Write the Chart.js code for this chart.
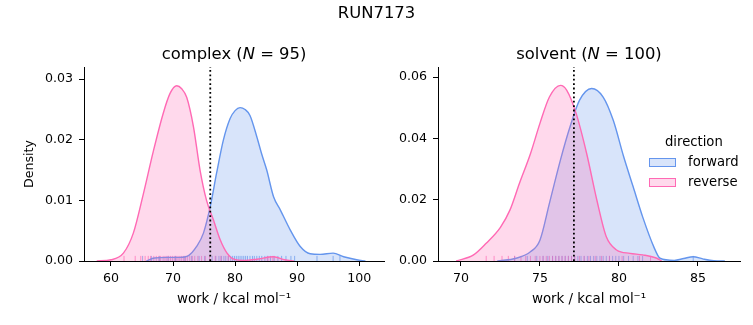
<!DOCTYPE html>
<html>
<head>
<meta charset="utf-8">
<script src="https://cdn.jsdelivr.net/npm/chart.js@4/dist/chart.umd.min.js"></script>
<style>
  body { margin: 0; background: #fff; font-family: 'DejaVu Sans', sans-serif; }
  #wrap { position: relative; width: 753px; height: 325px; }
  canvas { position: absolute; left: 0; top: 0; }
  .txt { position: absolute; color: #000; white-space: nowrap; line-height: 20px; }
  .sub { font-size: 16.4px; text-align: center; }
  .leg { font-size: 13.2px; }
  .patch { position: absolute; width: 27px; height: 9px; box-sizing: border-box; }
</style>
</head>
<body>
<div id="wrap">
  <canvas id="complexChart" width="753" height="325"></canvas>
  <canvas id="solventChart" width="753" height="325"></canvas>
  <div class="txt sub" style="left:0;width:753px;top:3px;">RUN7173</div>
  <div class="txt sub" style="left:84px;width:300px;top:44px;">complex (<i>N</i> = 95)</div>
  <div class="txt sub" style="left:438px;width:302px;top:44px;">solvent (<i>N</i> = 100)</div>
  <div class="txt leg" style="left:665px;top:132px;">direction</div>
  <div class="patch" style="left:649px;top:158px;background:rgba(100,149,237,0.25);border:1px solid #6495ed;"></div>
  <div class="txt leg" style="left:688px;top:152px;">forward</div>
  <div class="patch" style="left:649px;top:178px;background:rgba(255,105,180,0.25);border:1px solid #ff69b4;"></div>
  <div class="txt leg" style="left:688px;top:172px;">reverse</div>
</div>
<script>
// complex leg: KDE curves
const complexFwdX = [65.7, 67, 69, 71, 72.5, 73.8, 74.9, 76.0, 77.0, 78.1, 79.2, 80.0, 80.8, 81.6, 82.4, 83.5, 84.3, 85.1, 86.2, 87.3, 88.9, 90.5, 92.1, 93.7, 95.8, 97.5, 99.6, 101];
const complexFwdY = [0, 0.0005, 0.0006, 0.0006, 0.0009, 0.0024, 0.0046, 0.009, 0.0144, 0.0199, 0.0235, 0.0248, 0.0253, 0.025, 0.024, 0.0205, 0.0176, 0.015, 0.0106, 0.0084, 0.0051, 0.0024, 0.0012, 0.0011, 0.0013, 0.0007, 0.0002, 0];
const complexRevX = [57.7, 60, 62, 63.6, 65.2, 66.8, 68.4, 69.5, 70.6, 71.4, 72.2, 73.3, 74.35, 75.4, 76.5, 77.6, 78.7, 79.8, 81.5, 83.5, 86.2, 88, 89.5];
const complexRevY = [0, 0.0002, 0.0013, 0.0046, 0.011, 0.018, 0.0243, 0.0276, 0.0289, 0.0284, 0.027, 0.0221, 0.015, 0.010, 0.0068, 0.0035, 0.0013, 0.0003, 0.0001, 0.0003, 0.0007, 0.0002, 0];
const complexFwdRug = [65.1, 66.5, 67.8, 69.2, 70.4, 71.9, 73.0, 74.2, 75.1, 76.3, 76.9, 77.4, 77.8, 78.2, 78.5, 78.9, 79.3, 79.6, 79.9, 80.2, 80.5, 80.8, 81.1, 81.4, 81.7, 82.0, 82.4, 82.8, 83.1, 83.5, 83.9, 84.3, 84.8, 85.2, 85.7, 86.3, 86.9, 87.5, 88.2, 89.0, 89.6, 93.2, 95.8, 96.9];
const complexRevRug = [62.1, 63.9, 64.8, 65.5, 66.0, 66.4, 66.9, 67.3, 67.7, 68.0, 68.4, 68.7, 69.0, 69.3, 69.6, 69.9, 70.2, 70.5, 70.8, 71.1, 71.4, 71.7, 72.0, 72.3, 72.7, 73.1, 73.5, 74.0, 74.6, 75.2, 75.9, 76.8, 77.7, 78.9, 85.3, 86.1];
const complexCut = 76.0;

// solvent leg
const solventFwdX = [72.3, 73.5, 74.4, 75.0, 75.6, 76.3, 76.9, 77.5, 78.27, 79.0, 79.64, 80.3, 80.9, 81.5, 82.2, 82.6, 83.5, 84.1, 84.7, 85.3, 86.0, 86.7];
const solventFwdY = [0, 0.0009, 0.003, 0.0068, 0.0188, 0.033, 0.0437, 0.0524, 0.0563, 0.0535, 0.0459, 0.034, 0.0242, 0.0144, 0.0047, 0.0009, 0.0002, 0.0008, 0.0014, 0.0007, 0.0001, 0];
const solventRevX = [69.7, 70.8, 71.6, 72.5, 73.1, 73.7, 74.4, 75.0, 75.6, 76.3, 76.7, 77.3, 77.96, 78.6, 79.2, 79.85, 80.7, 81.5, 82.4, 82.7];
const solventRevY = [0, 0.002, 0.0058, 0.011, 0.0166, 0.0253, 0.035, 0.0449, 0.0535, 0.0573, 0.0557, 0.048, 0.035, 0.0199, 0.0079, 0.0036, 0.0025, 0.002, 0.0009, 0];
const solventFwdRug = [73.4, 74.2, 74.8, 75.2, 75.5, 75.8, 76.0, 76.2, 76.4, 76.6, 76.8, 77.0, 77.2, 77.4, 77.6, 77.8, 78.0, 78.2, 78.4, 78.6, 78.8, 79.0, 79.2, 79.4, 79.6, 79.8, 80.0, 80.3, 80.6, 80.9, 81.2, 81.5, 84.7];
const solventRevRug = [71.6, 72.1, 72.6, 73.0, 73.4, 73.8, 74.1, 74.4, 74.7, 75.0, 75.2, 75.4, 75.6, 75.8, 76.0, 76.2, 76.4, 76.6, 76.8, 77.0, 77.2, 77.5, 77.8, 78.1, 78.5, 78.9, 79.4, 80.2, 81.3, 82.0];
const solventCut = 77.15;

const blue = '#6495ed', pink = '#ff69b4';
const blueFill = 'rgba(100,149,237,0.25)', pinkFill = 'rgba(255,105,180,0.25)';

Chart.defaults.font.family = 'DejaVu Sans';
Chart.defaults.font.size = 12.6;
Chart.defaults.color = '#000';

const pts = (xs, ys) => xs.map((x, i) => ({ x: x, y: ys[i] }));

function kde(xs, ys, line, fill) {
  return {
    data: pts(xs, ys), showLine: true, fill: 'origin',
    borderColor: line, backgroundColor: fill, borderWidth: 1.4,
    pointRadius: 0, cubicInterpolationMode: 'monotone'
  };
}

function rug(vals, color, yMax) {
  return {
    data: vals.map(v => ({ x: v, y: yMax * 0.013 })),
    showLine: false, pointStyle: 'line', rotation: 90, pointRadius: 2.6,
    borderColor: color, borderWidth: 1
  };
}

function makeChart(id, o) {
  return new Chart(document.getElementById(id), {
    type: 'scatter',
    data: {
      datasets: [
        { data: [{ x: o.cut, y: 0 }, { x: o.cut, y: o.yMax }], showLine: true, borderColor: '#000',
          borderWidth: 1.8, borderDash: [1.8, 2.6], pointRadius: 0, fill: false },
        kde(o.revX, o.revY, pink, pinkFill),
        kde(o.fwdX, o.fwdY, blue, blueFill),
        rug(o.revRug, 'rgba(255,105,180,0.7)', o.yMax),
        rug(o.fwdRug, 'rgba(100,149,237,0.7)', o.yMax)
      ]
    },
    options: {
      responsive: false,
      animation: false,
      devicePixelRatio: 1,
      layout: { padding: o.pad },
      plugins: { legend: { display: false }, tooltip: { enabled: false } },
      scales: {
        x: {
          type: 'linear', min: o.xMin, max: o.xMax,
          afterFit: s => { s.height = 51; },
          grid: { drawOnChartArea: false, drawTicks: true, tickLength: 5, color: '#000' },
          border: { display: true, color: '#000' },
          ticks: { stepSize: o.xStep, includeBounds: false, autoSkip: false, maxRotation: 0, padding: 5 },
          title: { display: true, text: 'work / kcal mol⁻¹', font: { size: 13.4 }, padding: { top: 4, bottom: 4 } }
        },
        y: {
          type: 'linear', min: 0, max: o.yMax,
          afterFit: s => { s.width = o.yWidth; },
          grid: { drawOnChartArea: false, drawTicks: true, tickLength: 5, color: '#000' },
          border: { display: true, color: '#000' },
          ticks: { stepSize: o.yStep, includeBounds: false, padding: 6,
                   callback: v => v.toFixed(2) },
          title: { display: o.yTitle, text: 'Density', padding: { top: 4, bottom: 4 } }
        }
      }
    }
  });
}

makeChart('complexChart', {
  fwdX: complexFwdX, fwdY: complexFwdY, revX: complexRevX, revY: complexRevY,
  fwdRug: complexFwdRug, revRug: complexRevRug, cut: complexCut,
  xMin: 55.65, xMax: 104, xStep: 10, yMax: 0.032, yStep: 0.01,
  yTitle: true, yWidth: 66, pad: { left: 18, top: 67, right: 369, bottom: 13 }
});

makeChart('solventChart', {
  fwdX: solventFwdX, fwdY: solventFwdY, revX: solventRevX, revY: solventRevY,
  fwdRug: solventFwdRug, revRug: solventRevRug, cut: solventCut,
  xMin: 68.55, xMax: 87.66, xStep: 5, yMax: 0.0633, yStep: 0.02,
  yTitle: false, yWidth: 48, pad: { left: 390, top: 67, right: 13, bottom: 13 }
});
</script>
</body>
</html>
